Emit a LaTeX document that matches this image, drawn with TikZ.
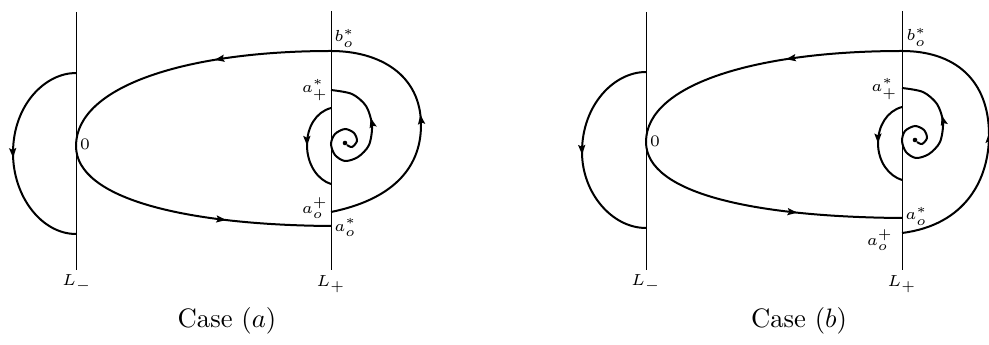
\documentclass[tikz,border=0pt]{standalone}
\usepackage{amsmath}
\usetikzlibrary{arrows.meta, decorations.markings}

\begin{document}
\begin{tikzpicture}[x=0.375pt, y=-0.375pt,
    axis/.style={line width=0.35pt},
    orbit/.style={line width=0.75pt},
    midarrow/.style={postaction={decorate}, decoration={markings,
        mark=at position #1 with {\arrow{Stealth[length=3.6pt, width=2.6pt, inset=0.6pt]}}}},
    lab/.style={font=\fontsize{6}{7}\selectfont, inner sep=0pt},
    casetext/.style={inner sep=0pt}]
  \useasboundingbox (0,0) rectangle (989,345);

  % ---------- Case (a) ----------
  \begin{scope}[name prefix=a-]
    % switching lines
    \coordinate (Lmtop) at (76,12);
    \coordinate (Lmbot) at (76,270);
    \coordinate (Lptop) at (331,11);
    \coordinate (Lpbot) at (331,270);
    \draw[axis] (Lmtop) -- (Lmbot);
    \draw[axis] (Lptop) -- (Lpbot);
    \node[lab] (Lm) at (77,283) {$L_-$};
    \node[lab] (Lp) at (331,284) {$L_+$};
    % points on the lines
    \coordinate (zero) at (76,146);
    \coordinate (bo) at (331,51);
    \coordinate (aostar) at (331,226);
    \coordinate (aoplus) at (331,212);
    \node[lab, anchor=west] (zlab) at (79.5,144) {$0$};
    \node[lab, anchor=west] (bolab) at (334,38) {$b_o^*$};
    \node[lab, anchor=west] (aostarlab) at (334,227.5) {$a_o^*$};
    \node[lab, anchor=east] (aopluslab) at (328.5,208.5) {$a_o^+$};
    % big orbit through 0
    \draw[orbit, midarrow=0.4] (bo) .. controls (190,51) and (76,85) .. (zero);
    \draw[orbit, midarrow=0.63] (zero) .. controls (76,200) and (190,225) .. (aostar);
    % outer arc right of L_+
    \draw[orbit, midarrow=0.55] (aoplus) .. controls (390,200) and (421,170) .. (421,125)
      .. controls (421,75) and (380,51) .. (bo);
    % arc left of L_-
    \coordinate (mtop) at (76,73);
    \coordinate (mbot) at (76,234);
    \draw[orbit, midarrow=0.52] (mtop) .. controls (45,73) and (13,105) .. (13,153)
      .. controls (13,197) and (42,234) .. (mbot);
    % focus and spiral
    \coordinate (focus) at (345,143);
    \coordinate (aplus) at (331,90);
    \node[lab, anchor=east] (apluslab) at (328.5,90) {$a_+^*$};
    \fill (focus) circle (2.3);
    \draw[orbit, midarrow=0.72] plot[smooth] coordinates {(347,145) (352,147) (357,141)
      (354,133) (345,129) (335,134) (331,144) (335,155) (345,161) (358,157) (369,145)
      (372,125) (366,106) (352,94) (aplus)};
    % small arc left of L_+
    \coordinate (stop) at (331,108);
    \coordinate (sbot) at (331,184);
    \draw[orbit, midarrow=0.5] (stop) .. controls (316,112) and (307,127) .. (307,145)
      .. controls (307,165) and (318,180) .. (sbot);
    \node[casetext] (capa) at (227,321) {Case $(a)$};
  \end{scope}

  % ---------- Case (b) ----------
  \begin{scope}[shift={(570,0)}, name prefix=b-]
    % switching lines
    \coordinate (Lmtop) at (76,12);
    \coordinate (Lmbot) at (76,270);
    \coordinate (Lptop) at (332,11);
    \coordinate (Lpbot) at (332,270);
    \draw[axis] (Lmtop) -- (Lmbot);
    \draw[axis] (Lptop) -- (Lpbot);
    \node[lab] (Lm) at (76,283) {$L_-$};
    \node[lab] (Lp) at (332,284) {$L_+$};
    % points on the lines
    \coordinate (zero) at (76,142);
    \coordinate (bo) at (332,51);
    \coordinate (aostar) at (332,218);
    \coordinate (aoplus) at (332,233);
    \node[lab, anchor=west] (zlab) at (79.5,141) {$0$};
    \node[lab, anchor=west] (bolab) at (336,37) {$b_o^*$};
    \node[lab, anchor=west] (aostarlab) at (335,216) {$a_o^*$};
    \node[lab, anchor=east] (aopluslab) at (323.5,240) {$a_o^+$};
    % big orbit through 0
    \draw[orbit, midarrow=0.4] (bo) .. controls (190,51) and (76,83) .. (zero);
    \draw[orbit, midarrow=0.63] (zero) .. controls (76,195) and (190,217) .. (aostar);
    % outer arc right of L_+
    \draw[orbit, midarrow=0.52] (aoplus) .. controls (395,225) and (419,180) .. (419,135)
      .. controls (419,80) and (385,51) .. (bo);
    % arc left of L_-
    \coordinate (mtop) at (76,72);
    \coordinate (mbot) at (76,228);
    \draw[orbit, midarrow=0.52] (mtop) .. controls (44,72) and (12,105) .. (12,152)
      .. controls (12,193) and (42,228) .. (mbot);
    % focus and spiral
    \coordinate (focus) at (345,140);
    \coordinate (aplus) at (332,88);
    \node[lab, anchor=east] (apluslab) at (328,89) {$a_+^*$};
    \fill (focus) circle (2.3);
    \draw[orbit, midarrow=0.72] plot[smooth] coordinates {(347,142) (352,144) (357,138)
      (354,130) (345,126) (335,131) (332,141) (336,152) (346,158) (359,154) (370,142)
      (373,122) (367,104) (353,92) (aplus)};
    % small arc left of L_+
    \coordinate (stop) at (332,107);
    \coordinate (sbot) at (332,180);
    \draw[orbit, midarrow=0.5] (stop) .. controls (317,111) and (308,126) .. (308,143)
      .. controls (308,162) and (319,176) .. (sbot);
    \node[casetext] (capb) at (229,321) {Case $(b)$};
  \end{scope}
\end{tikzpicture}
\end{document}
